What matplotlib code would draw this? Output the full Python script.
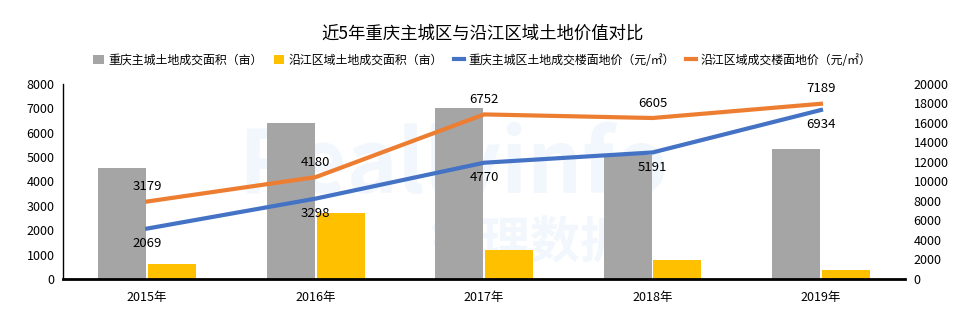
import matplotlib

matplotlib.use("Agg")
import matplotlib.pyplot as plt
import numpy as np

plt.rcParams["font.family"] = ["Noto Sans CJK SC", "DejaVu Sans"]

years = ["2015年", "2016年", "2017年", "2018年", "2019年"]
area_main = [4550, 6400, 7030, 5100, 5330]        # 重庆主城土地成交面积(亩)
area_river = [630, 2720, 1190, 780, 370]          # 沿江区域土地成交面积(亩)
price_main = [2069, 3298, 4770, 5191, 6934]       # 重庆主城区土地成交楼面地价
price_river = [3179, 4180, 6752, 6605, 7189]      # 沿江区域成交楼面地价
left_ticks = [0, 1000, 2000, 3000, 4000, 5000, 6000, 7000, 8000]
right_ticks = [0, 2000, 4000, 6000, 8000, 10000, 12000, 14000, 16000, 18000, 20000]

GRAY, YELLOW, BLUE, ORANGE = "#A5A5A5", "#FFC000", "#4472C4", "#ED7D31"

fig = plt.figure(figsize=(9.65, 3.34), dpi=100)
ax = fig.add_axes([0.0653, 0.1647, 0.8727, 0.5838])
x = np.arange(len(years))
w = 0.285

# faint watermark, kept behind every mark
ax.text(0.47, 0.50, "Reallyinfo", fontsize=62, fontweight="bold", color="#F1F7FC",
        ha="center", va="center", transform=fig.transFigure, zorder=1)
ax.text(0.55, 0.27, "锐理数据", fontsize=36, fontweight="bold", color="#F1F7FC",
        ha="center", va="center", transform=fig.transFigure, zorder=1)

b1 = ax.bar(x - w / 2 - 0.005, area_main, w, color=GRAY, label="重庆主城土地成交面积（亩）", zorder=2)
b2 = ax.bar(x + w / 2 + 0.005, area_river, w, color=YELLOW, label="沿江区域土地成交面积（亩）", zorder=2)
l1, = ax.plot(x, price_main, color=BLUE, lw=3, label="重庆主城区土地成交楼面地价（元/㎡）", zorder=3)
l2, = ax.plot(x, price_river, color=ORANGE, lw=3, label="沿江区域成交楼面地价（元/㎡）", zorder=3)

for xi, v in zip(x, price_river):
    ax.annotate(f"{v}", (xi, v), xytext=(0, 6), textcoords="offset points",
                ha="center", va="bottom", fontsize=9.5, zorder=4)
for xi, v in zip(x, price_main):
    ax.annotate(f"{v}", (xi, v), xytext=(0, -6), textcoords="offset points",
                ha="center", va="top", fontsize=9.5, zorder=4)

ax.set_xlim(-0.5, len(years) - 0.5)
ax.set_ylim(0, 8000)
ax.set_yticks(left_ticks)
ax.set_xticks(x)
ax.set_xticklabels(years)
ax.tick_params(length=0, labelsize=9, pad=6)
ax.tick_params(axis="x", pad=9)
for s in ["top", "right"]:
    ax.spines[s].set_visible(False)
ax.spines["left"].set_linewidth(1)
ax.spines["bottom"].set_linewidth(2)

ax2 = ax.twinx()
ax2.set_ylim(0, 20000)
ax2.set_yticks(right_ticks)
ax2.tick_params(length=0, labelsize=9, pad=6)
for s in ax2.spines.values():
    s.set_visible(False)

fig.text(0.5, 0.90, "近5年重庆主城区与沿江区域土地价值对比", ha="center", va="center", fontsize=12.5)
fig.legend(handles=[b1, b2, l1, l2], loc="center", bbox_to_anchor=(0.5, 0.82), ncol=4,
           frameon=False, fontsize=8.6, handlelength=0.9, handletextpad=0.35, columnspacing=0.9)

fig.savefig("out.png", dpi=100)
